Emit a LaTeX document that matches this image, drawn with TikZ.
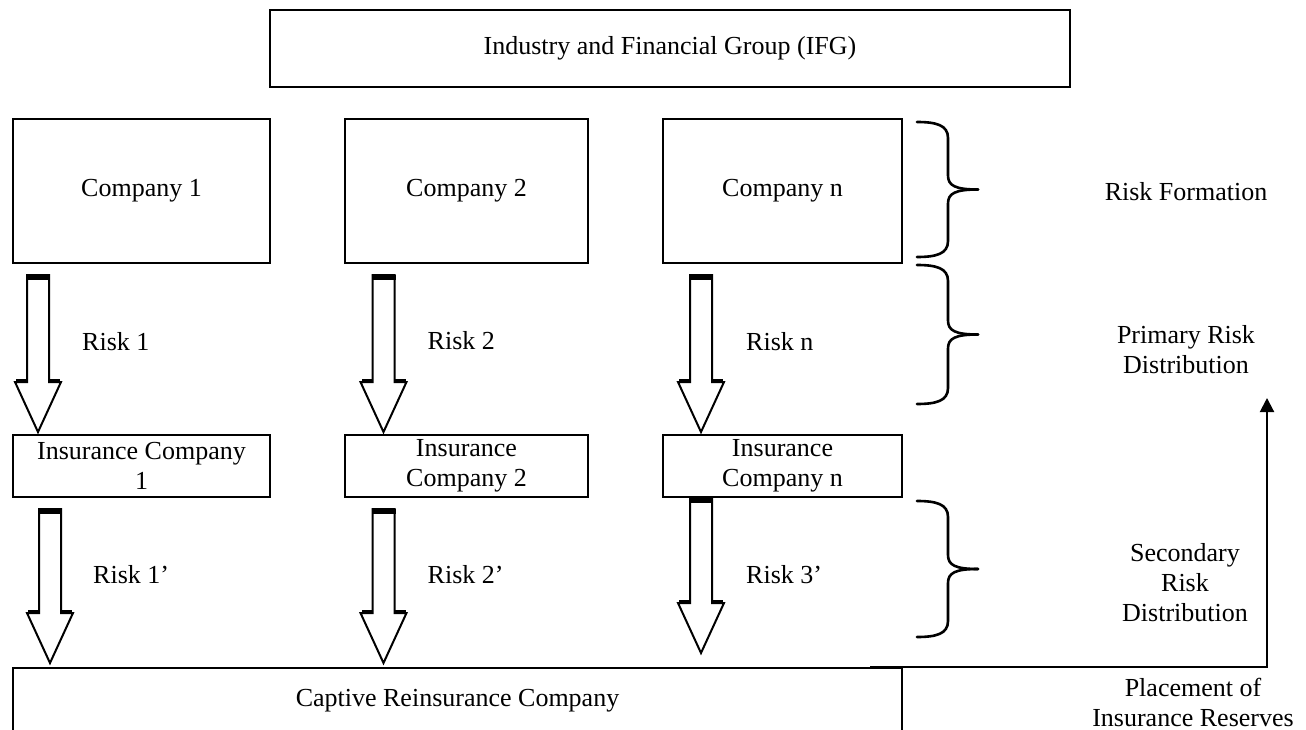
\documentclass[tikz,border=0pt]{standalone}
\usepackage{fontspec}
\setmainfont{Liberation Serif}
\usepackage{tikz}
\usetikzlibrary{positioning,calc,arrows.meta}
\tikzset{box/.style={draw, line width=1.5pt, inner sep=0pt, outer sep=0pt, align=center},
  company/.style={box, minimum height=144pt},
  insurer/.style={box, minimum height=62pt},
  risk label/.style={anchor=west, inner sep=0pt},
  side label/.style={align=center, inner sep=0pt},
  arrow body/.style={draw, line width=2pt, line join=miter, fill=white},
  curly/.style={line width=2.6pt, line cap=round},
  link/.style={line width=2pt, -{Triangle[width=14pt,length=14pt]}},}
% block arrow from #1 (top) to #2 (tip)
\newcommand{\riskarrow}[2]{%
  \draw[arrow body] ($(#1)+(-11,0)$) -- ($(#1)+(11,0)$) -- ($(#2)+(11,-50)$) -- ($(#2)+(23,-50)$)
    -- (#2) -- ($(#2)+(-23,-50)$) -- ($(#2)+(-11,-50)$) -- cycle;
  \draw[line width=5pt] ($(#1)+(-12,2)$) -- ($(#1)+(12,2)$);
  \draw[line width=3.5pt] ($(#2)+(11,-51)$) -- ($(#2)+(22,-51)$);
  \draw[line width=3.5pt] ($(#2)+(-11,-51)$) -- ($(#2)+(-22,-51)$);
}

\begin{document}
\begin{tikzpicture}[x=1pt, y=-1pt, font=\fontsize{26}{30}\selectfont]
        \useasboundingbox (0,0) rectangle (1306,730);
        % Nodes
        \node[box, minimum width=800pt, minimum height=77pt] (ifg) at (670,48.5) {Industry and Financial Group (IFG)};
        \node[company, minimum width=257pt] (c1) at (141.5,191) {Company 1};
        \node[company, minimum width=243pt, right=75pt of c1] (c2) {Company 2};
        \node[company, minimum width=239pt, right=75pt of c2] (cn) {Company n};
        \node[insurer, minimum width=257pt, below=172pt of c1] (i1) {Insurance Company\\1};
        \node[insurer, minimum width=243pt, below=172pt of c2] (i2) {Insurance\\Company 2};
        \node[insurer, minimum width=239pt, below=172pt of cn] (in) {Insurance\\Company n};
        \node[box, minimum width=889pt, minimum height=66pt, below=171pt of i1.south west, anchor=north west] (captive) {Captive Reinsurance Company};
        % Labels on the right
        \node[side label] (form) at (1186,192) {Risk Formation};
        \node[side label] (prim) at (1186,350) {Primary Risk\\Distribution};
        \node[side label] (sec) at (1185,583) {Secondary\\Risk\\Distribution};
        \node[side label] (place) at (1193,702) {Placement of\\Insurance Reserves};
        % Risk arrows
        \coordinate (r1s) at ($(c1.south west)+(25,12)$);
        \coordinate (r1e) at ($(r1s |- i1.north)+(0,-3)$);
        \coordinate (r2s) at ($(c2.south west)+(38.5,12)$);
        \coordinate (r2e) at ($(r2s |- i2.north)+(0,-3)$);
        \coordinate (rns) at ($(cn.south west)+(38,12)$);
        \coordinate (rne) at ($(rns |- in.north)+(0,-3)$);
        \coordinate (q1s) at ($(i1.south west)+(37,12)$);
        \coordinate (q1e) at ($(q1s |- captive.north)+(0,-5)$);
        \coordinate (q2s) at ($(i2.south west)+(38.5,12)$);
        \coordinate (q2e) at ($(q2s |- captive.north)+(0,-5)$);
        \coordinate (q3s) at ($(in.south west)+(38,1)$);
        \coordinate (q3e) at ($(q3s |- captive.north)+(0,-15)$);
        \riskarrow{r1s}{r1e}
        \riskarrow{r2s}{r2e}
        \riskarrow{rns}{rne}
        \riskarrow{q1s}{q1e}
        \riskarrow{q2s}{q2e}
        \riskarrow{q3s}{q3e}
        \node[risk label] (l1) at ($(r1s)+(44,67)$) {Risk 1};
        \node[risk label] (l2) at ($(r2s)+(44,66)$) {Risk 2};
        \node[risk label] (ln) at ($(rns)+(45,67)$) {Risk n};
        \node[risk label] (m1) at ($(q1s)+(43,66)$) {Risk 1'};
        \node[risk label] (m2) at ($(q2s)+(44,66)$) {Risk 2'};
        \node[risk label] (m3) at ($(q3s)+(45,77)$) {Risk 3'};
        % Braces
        \foreach \t/\b in {122/257, 265/404, 501/637} {
          \pgfmathsetmacro{\m}{(\t+\b)/2}
          \draw[curly] (917,\t) .. controls (936,\t) and (948,\t+3) .. (948,\t+16) -- (948,\m-14)
            .. controls (948,\m-4) and (955,\m) .. (978,\m);
          \draw[curly] (978,\m) .. controls (955,\m) and (948,\m+4) .. (948,\m+14) -- (948,\b-16)
            .. controls (948,\b-3) and (936,\b) .. (917,\b);
        }
        % Reserves back up
        \coordinate (ret) at (1267,398);
        \draw[link] ($(captive.north east)+(-32,-1)$) -| (ret);
    \end{tikzpicture}
\end{document}
